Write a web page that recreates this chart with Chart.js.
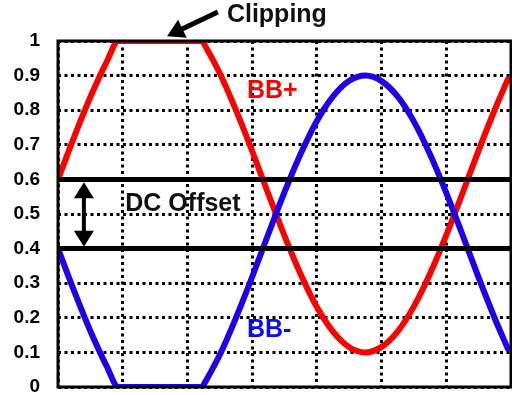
<!DOCTYPE html>
<html>
<head>
<meta charset="utf-8">
<script src="https://cdn.jsdelivr.net/npm/chart.js@4/dist/chart.umd.min.js"></script>
<style>
  html, body { margin: 0; padding: 0; background: #fff; }
  #wrap { width: 512px; height: 395px; }
</style>
</head>
<body>
<div id="wrap"><canvas id="scope"></canvas></div>
<script>
// time axis in grid divisions
const phase = [0, 0.25, 0.5, 0.75, 0.934, 1, 1.25, 1.5, 1.75, 2, 2.231, 2.25,
  2.5, 2.75, 3, 3.25, 3.5, 3.75, 4, 4.25, 4.5, 4.75, 5, 5.25, 5.5, 5.75, 6, 6.25,
  6.5, 6.75, 6.95];

const bbPlus = [0.6, 0.723, 0.838, 0.939, 1, 1, 1, 1, 1, 1, 1, 0.994,
  0.907, 0.8, 0.682, 0.558, 0.437, 0.326, 0.231, 0.16, 0.115, 0.1, 0.116, 0.161,
  0.233, 0.328, 0.439, 0.56, 0.684, 0.802, 0.889];

const bbMinus = [0.4, 0.277, 0.162, 0.061, 0, 0, 0, 0, 0, 0, 0, 0.006,
  0.093, 0.2, 0.318, 0.442, 0.563, 0.674, 0.769, 0.84, 0.885, 0.9, 0.884, 0.839,
  0.767, 0.672, 0.561, 0.44, 0.316, 0.198, 0.111];

const offsetLevels = [0.6, 0.4];
const timeRange = [0, 7];
const yTickLabels = ['0', '0.1', '0.2', '0.3', '0.4', '0.5', '0.6', '0.7', '0.8', '0.9', '1'];

const toPoints = (xs, ys) => xs.map((x, i) => ({ x: x, y: ys[i] }));
const flatLine = (v) => timeRange.map(x => ({ x: x, y: v }));

function arrowHead(ctx, x1, y1, x2, y2, len, half) {
  const a = Math.atan2(y2 - y1, x2 - x1);
  ctx.beginPath();
  ctx.moveTo(x2, y2);
  ctx.lineTo(x2 - len * Math.cos(a) + half * Math.sin(a), y2 - len * Math.sin(a) - half * Math.cos(a));
  ctx.lineTo(x2 - len * Math.cos(a) - half * Math.sin(a), y2 - len * Math.sin(a) + half * Math.cos(a));
  ctx.closePath();
  ctx.fill();
}

// frame, labels and arrows on top of the plot
const notes = {
  id: 'notes',
  afterDraw(chart) {
    const { ctx, chartArea: a, scales: { x, y } } = chart;
    ctx.save();
    ctx.strokeStyle = '#000';
    ctx.lineWidth = 3;
    ctx.strokeRect(a.left, a.top, a.width, a.height);

    ctx.font = 'bold 25px "Liberation Sans", Arial, sans-serif';
    ctx.textBaseline = 'alphabetic';
    ctx.textAlign = 'left';
    ctx.fillStyle = '#111';
    ctx.fillText('Clipping', x.getPixelForValue(2.61), y.getPixelForValue(1.055));
    ctx.fillText('DC Offset', x.getPixelForValue(1.04), y.getPixelForValue(0.509));
    ctx.fillStyle = '#ff0000';
    ctx.fillText('BB+', x.getPixelForValue(2.92), y.getPixelForValue(0.835));
    ctx.fillStyle = '#0a0aff';
    ctx.fillText('BB-', x.getPixelForValue(2.92), y.getPixelForValue(0.145));

    // clipping pointer
    ctx.fillStyle = '#000';
    ctx.strokeStyle = '#000';
    ctx.lineWidth = 5;
    const tx = x.getPixelForValue(2.47), ty = y.getPixelForValue(1.084);
    const hx = x.getPixelForValue(1.685), hy = y.getPixelForValue(1.014);
    const ang = Math.atan2(hy - ty, hx - tx);
    ctx.beginPath();
    ctx.moveTo(tx, ty);
    ctx.lineTo(hx - 12 * Math.cos(ang), hy - 12 * Math.sin(ang));
    ctx.stroke();
    arrowHead(ctx, tx, ty, hx, hy, 17, 10);

    // offset span arrow
    const ax = x.getPixelForValue(0.4);
    const top = y.getPixelForValue(0.592), bot = y.getPixelForValue(0.405);
    ctx.lineWidth = 4;
    ctx.beginPath();
    ctx.moveTo(ax, top + 12);
    ctx.lineTo(ax, bot - 12);
    ctx.stroke();
    arrowHead(ctx, ax, bot, ax, top, 16, 10);
    arrowHead(ctx, ax, top, ax, bot, 16, 10);
    ctx.restore();
  }
};

const gridStyle = {
  color: '#000',
  lineWidth: 3,
  drawTicks: false
};

new Chart(document.getElementById('scope'), {
  type: 'line',
  data: {
    datasets: [
      ...offsetLevels.map(v => ({
        data: flatLine(v),
        borderColor: '#000',
        borderWidth: 5,
        pointRadius: 0,
        order: 0
      })),
      {
        label: 'BB+',
        data: toPoints(phase, bbPlus),
        borderColor: '#ff0000',
        borderWidth: 6,
        pointRadius: 0,
        cubicInterpolationMode: 'monotone',
        borderCapStyle: 'round',
        order: 2
      },
      {
        label: 'BB-',
        data: toPoints(phase, bbMinus),
        borderColor: '#1f00e8',
        borderWidth: 6,
        pointRadius: 0,
        cubicInterpolationMode: 'monotone',
        borderCapStyle: 'round',
        order: 1
      }
    ]
  },
  options: {
    responsive: true,
    maintainAspectRatio: false,
    animation: false,
    layout: { padding: { top: 41, right: 1, bottom: 8, left: 0 } },
    plugins: {
      legend: { display: false },
      tooltip: { enabled: false }
    },
    scales: {
      x: {
        type: 'linear',
        min: timeRange[0],
        max: timeRange[1],
        ticks: { display: false, stepSize: 1 },
        grid: gridStyle,
        border: { display: false, dash: [3, 3.5] },
        afterFit: (s) => { s.height = 0; }
      },
      y: {
        min: 0,
        max: 1,
        ticks: {
          stepSize: 0.1,
          padding: 18,
          color: '#000',
          font: { family: '"Liberation Sans", Arial, sans-serif', size: 19, weight: 'bold' },
          callback: (v, i) => yTickLabels[i]
        },
        grid: gridStyle,
        border: { display: false, dash: [3, 3.5] },
        afterFit: (s) => {
          s.width = 58;
          // keep the label gap from pushing the plot edges in
          s.paddingTop = 0;
          s.paddingBottom = 0;
        }
      }
    }
  },
  plugins: [notes]
});
</script>
</body>
</html>
